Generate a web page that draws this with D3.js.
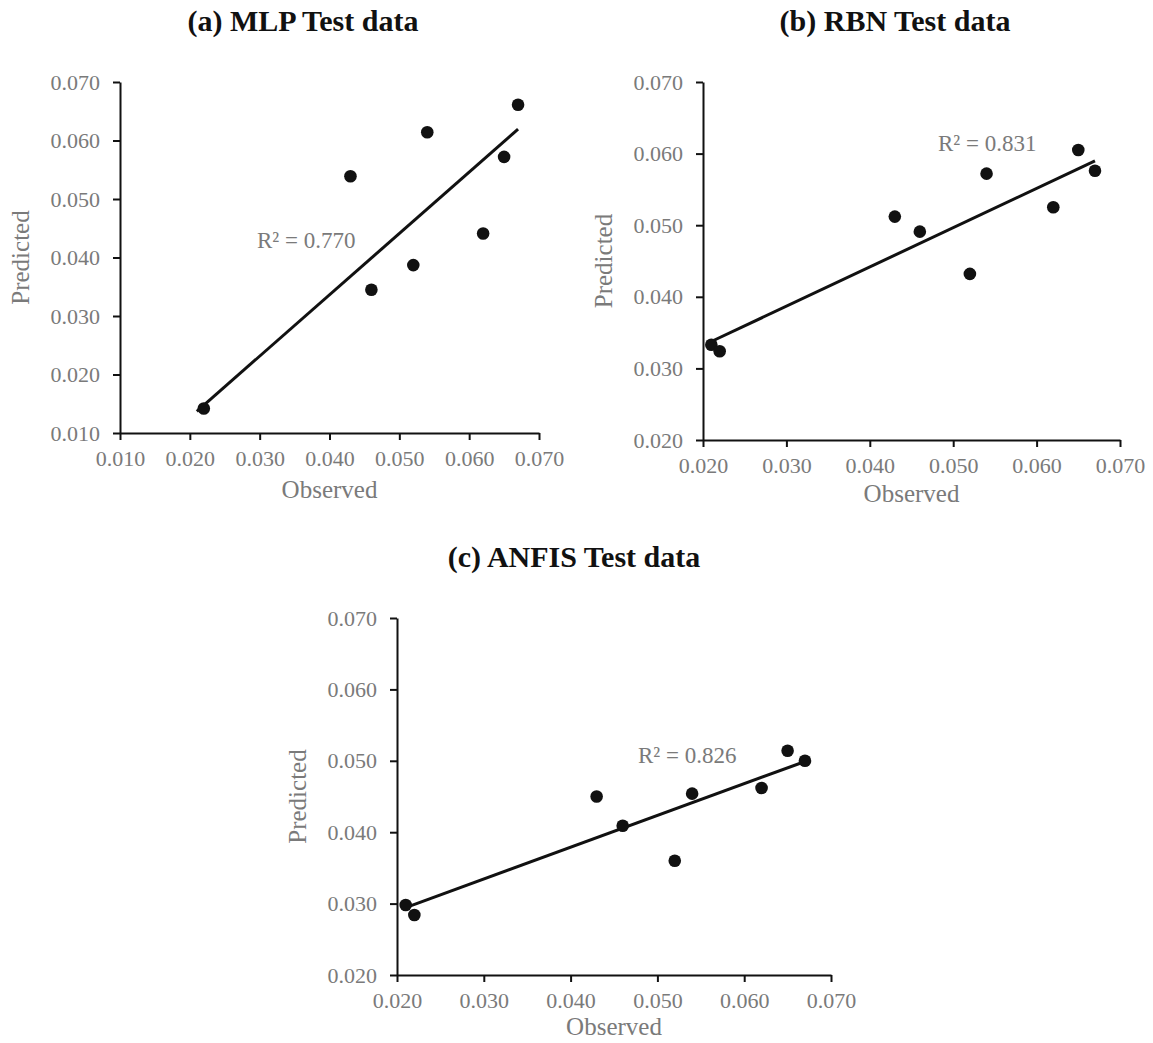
<!DOCTYPE html>
<html>
<head>
<meta charset="utf-8">
<script src="https://cdn.jsdelivr.net/npm/d3@7"></script>
<style>
  body { margin: 0; background: #fff; }
  svg { display: block; }
</style>
</head>
<body>
<div id="viz"></div>
<script>
// observed values shared by the three test sets
var observed = [0.021, 0.022, 0.043, 0.046, 0.052, 0.054, 0.062, 0.065, 0.067];

// predicted values per model (first MLP point sits below the axis and is clipped)
var mlpPredicted = [0.0080, 0.0142, 0.0539, 0.0345, 0.0387, 0.0614, 0.0441, 0.0572, 0.0661];
var rbnPredicted = [0.0333, 0.0324, 0.0512, 0.0491, 0.0432, 0.0572, 0.0525, 0.0605, 0.0576];
var anfisPredicted = [0.0298, 0.0284, 0.0450, 0.0409, 0.0360, 0.0454, 0.0462, 0.0514, 0.0500];

var titles = ['(a) MLP Test data', '(b) RBN Test data', '(c) ANFIS Test data'];
var r2Labels = ['R² = 0.770', 'R² = 0.831', 'R² = 0.826'];

var ticksA = [0.010, 0.020, 0.030, 0.040, 0.050, 0.060, 0.070];
var ticksB = [0.020, 0.030, 0.040, 0.050, 0.060, 0.070];

var width = 1153;
var height = 1043;
var fontFamily = '"Liberation Serif", "Times New Roman", serif';
var grey = '#7a7a7a';

var svg = d3.select('#viz')
    .append('svg')
    .attr('width', width)
    .attr('height', height);

function fit(xs, ys) {
    var mx = d3.mean(xs), my = d3.mean(ys);
    var sxy = d3.sum(xs, function (x, i) { return (x - mx) * (ys[i] - my); });
    var sxx = d3.sum(xs, function (x) { return (x - mx) * (x - mx); });
    var slope = sxy / sxx;
    return { slope: slope, intercept: my - slope * mx };
}

function panel(cfg, idx) {
    var x = d3.scaleLinear().domain(cfg.xDomain).range([cfg.left, cfg.right]);
    var y = d3.scaleLinear().domain(cfg.yDomain).range([cfg.bottom, cfg.top]);

    var g = svg.append('g');

    g.append('clipPath')
        .attr('id', 'clip' + idx)
        .append('rect')
        .attr('x', cfg.left)
        .attr('y', cfg.top)
        .attr('width', cfg.right - cfg.left)
        .attr('height', cfg.bottom - cfg.top);

    // title
    g.append('text')
        .attr('x', cfg.titleX)
        .attr('y', cfg.titleY)
        .attr('text-anchor', 'middle')
        .style('font-family', fontFamily)
        .style('font-weight', 'bold')
        .style('font-size', '30px')
        .style('fill', '#111')
        .text(cfg.title);

    var xAxis = d3.axisBottom(x)
        .tickValues(cfg.xTicks)
        .tickFormat(d3.format('.3f'))
        .tickSize(7)
        .tickSizeOuter(0)
        .tickPadding(10);

    var yAxis = d3.axisLeft(y)
        .tickValues(cfg.yTicks)
        .tickFormat(d3.format('.3f'))
        .tickSize(7)
        .tickSizeOuter(0)
        .tickPadding(13);

    var gx = g.append('g')
        .attr('transform', 'translate(0,' + cfg.bottom + ')')
        .call(xAxis);

    var gy = g.append('g')
        .attr('transform', 'translate(' + cfg.left + ',0)')
        .call(yAxis);

    [gx, gy].forEach(function (a) {
        a.select('.domain').attr('stroke', '#111').attr('stroke-width', 2);
        a.selectAll('.tick line').attr('stroke', '#111').attr('stroke-width', 2);
        a.selectAll('.tick text')
            .style('font-family', fontFamily)
            .style('font-size', '22px')
            .attr('fill', grey);
    });

    // axis titles
    g.append('text')
        .attr('x', (cfg.left + cfg.right) / 2)
        .attr('y', cfg.bottom + cfg.obsGap)
        .attr('text-anchor', 'middle')
        .style('font-family', fontFamily)
        .style('font-size', '25px')
        .style('fill', grey)
        .text('Observed');

    g.append('text')
        .attr('transform', 'translate(' + (cfg.left - 91) + ',' + ((cfg.top + cfg.bottom) / 2) + ') rotate(-90)')
        .attr('text-anchor', 'middle')
        .style('font-family', fontFamily)
        .style('font-size', '25px')
        .style('fill', grey)
        .text('Predicted');

    // linear trendline over the observed range
    var lf = fit(cfg.xs, cfg.ys);
    var xExt = d3.extent(cfg.xs);
    g.append('line')
        .attr('x1', x(xExt[0]))
        .attr('y1', y(lf.intercept + lf.slope * xExt[0]))
        .attr('x2', x(xExt[1]))
        .attr('y2', y(lf.intercept + lf.slope * xExt[1]))
        .attr('stroke', '#111')
        .attr('stroke-width', 3);

    g.append('g')
        .attr('clip-path', 'url(#clip' + idx + ')')
        .selectAll('circle')
        .data(cfg.xs)
        .enter().append('circle')
        .attr('cx', function (d) { return x(d); })
        .attr('cy', function (d, i) { return y(cfg.ys[i]); })
        .attr('r', 6.3)
        .attr('fill', '#111');

    g.append('text')
        .attr('x', cfg.r2X)
        .attr('y', cfg.r2Y)
        .style('font-family', fontFamily)
        .style('font-size', '23px')
        .style('fill', grey)
        .text(cfg.r2);
}

var panels = [
    { title: titles[0], r2: r2Labels[0], xs: observed, ys: mlpPredicted,
      xDomain: [0.010, 0.070], yDomain: [0.010, 0.070], xTicks: ticksA, yTicks: ticksA,
      left: 120, right: 539, top: 82, bottom: 433, obsGap: 65,
      titleX: 303, titleY: 31, r2X: 257, r2Y: 248 },
    { title: titles[1], r2: r2Labels[1], xs: observed, ys: rbnPredicted,
      xDomain: [0.020, 0.070], yDomain: [0.020, 0.070], xTicks: ticksB, yTicks: ticksB,
      left: 703, right: 1120, top: 82, bottom: 440, obsGap: 62,
      titleX: 895, titleY: 31, r2X: 938, r2Y: 151 },
    { title: titles[2], r2: r2Labels[2], xs: observed, ys: anfisPredicted,
      xDomain: [0.020, 0.070], yDomain: [0.020, 0.070], xTicks: ticksB, yTicks: ticksB,
      left: 397, right: 831, top: 618, bottom: 975, obsGap: 60,
      titleX: 574, titleY: 567, r2X: 638, r2Y: 763 }
];

panels.forEach(panel);
</script>
</body>
</html>
